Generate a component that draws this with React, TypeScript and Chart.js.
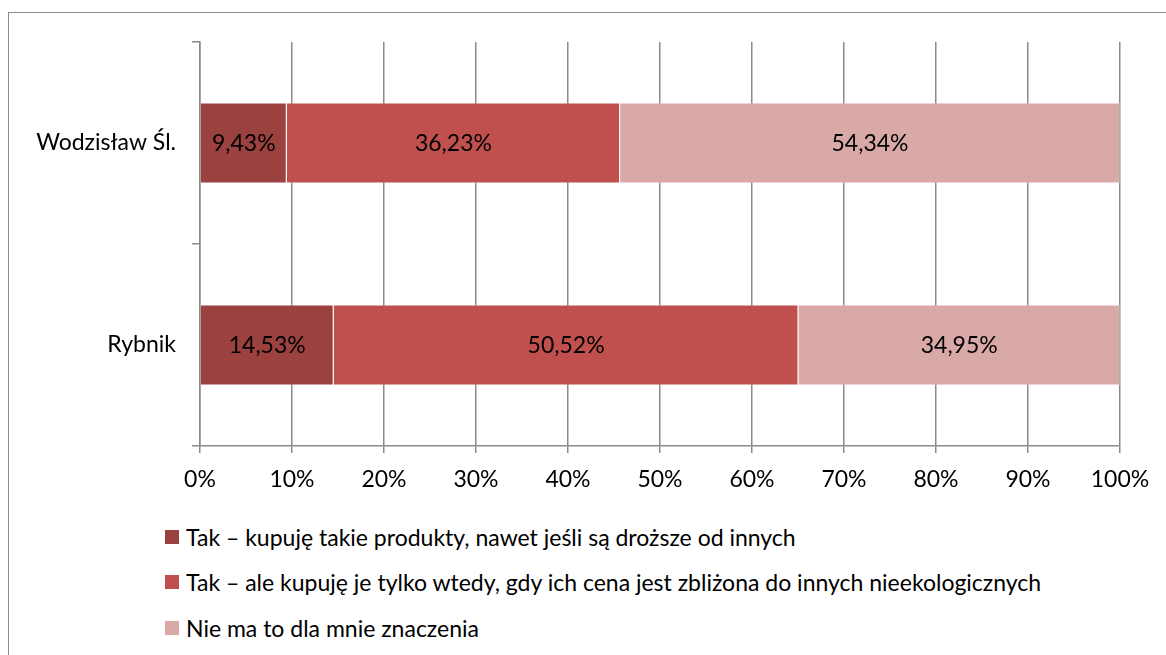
import React, { useEffect, useRef } from "react";
import { Chart, registerables } from "chart.js";

Chart.register(...registerables);

const categories = ["Wodzisław Śl.", "Rybnik"];
const seriesNames = [
  "Tak – kupuję takie produkty, nawet jeśli są droższe od innych",
  "Tak – ale kupuję je tylko wtedy, gdy ich cena jest zbliżona do innych nieekologicznych",
  "Nie ma to dla mnie znaczenia",
];
const seriesA = [9.43, 14.53];
const seriesB = [36.23, 50.52];
const seriesC = [54.34, 34.95];
const colors = ["#9B413F", "#C0504D", "#D9A9A8"];
const xTicks = [0, 10, 20, 30, 40, 50, 60, 70, 80, 90, 100];

const FONT = "Lato, 'Open Sans', sans-serif";
const FS = 23;
const GRID = "#8a8a8a";

const fmt = (v: number) => v.toFixed(2).replace(".", ",") + "%";

const labelPlugin = {
  id: "segLabels",
  afterDatasetsDraw(chart: any) {
    const ctx = chart.ctx;
    ctx.save();
    ctx.font = `${FS}px ${FONT}`;
    ctx.fillStyle = "#000";
    ctx.textAlign = "center";
    ctx.textBaseline = "middle";
    chart.data.datasets.forEach((ds: any, di: number) => {
      const meta = chart.getDatasetMeta(di);
      meta.data.forEach((el: any, i: number) => {
        const cx = (el.x + el.base) / 2;
        ctx.fillText(fmt(ds.data[i]), cx, el.y + 1);
      });
    });
    ctx.restore();
  },
};

export default function App() {
  const ref = useRef<HTMLCanvasElement | null>(null);
  useEffect(() => {
    if (!ref.current) return;
    const data = [seriesA, seriesB, seriesC];
    const chart = new Chart(ref.current, {
      type: "bar",
      data: {
        labels: categories,
        datasets: data.map((d, i) => ({
          label: seriesNames[i],
          data: d,
          backgroundColor: colors[i],
          borderColor: "rgba(255,255,255,0.3)",
          borderWidth: 1,
          barPercentage: 0.4,
          categoryPercentage: 1,
        })),
      },
      options: {
        indexAxis: "y",
        responsive: false,
        animation: false,
        devicePixelRatio: 1,
        layout: { padding: { left: 0, right: 46, top: 42, bottom: 0 } },
        plugins: {
          legend: { display: false },
          tooltip: { enabled: false },
        },
        scales: {
          x: {
            stacked: true,
            min: 0,
            max: 100,
            afterFit: (s: any) => {
              s.height = 54;
            },
            afterBuildTicks: (s: any) => {
              s.ticks = xTicks.map((v) => ({ value: v }));
            },
            ticks: {
              callback: (v: any) => v + "%",
              color: "#000",
              font: { family: FONT, size: FS },
              padding: 13,
              maxRotation: 0,
            },
            grid: { color: GRID, lineWidth: 1.5, tickLength: 7 },
            border: { color: GRID, width: 1.5 },
          },
          y: {
            stacked: true,
            afterFit: (s: any) => {
              s.width = 200;
            },
            ticks: {
              color: "#000",
              font: { family: FONT, size: FS },
              padding: 16,
            },
            grid: {
              drawOnChartArea: false,
              drawTicks: true,
              tickLength: 8,
              color: GRID,
              lineWidth: 1.5,
            },
            border: { color: GRID, width: 1.5 },
          },
        },
      },
      plugins: [labelPlugin],
    });
    return () => chart.destroy();
  }, []);

  const legendTops = [537, 582, 628];
  return (
    <div
      style={{
        position: "fixed",
        left: 0,
        top: 0,
        width: 1166,
        height: 655,
        overflow: "hidden",
        background: "#fff",
      }}
    >
      <div
        style={{
          position: "absolute",
          left: 8,
          top: 12,
          width: 1200,
          height: 700,
          border: "1.5px solid #8c8c8c",
        }}
      />
      <canvas
        ref={ref}
        width={1166}
        height={500}
        style={{ position: "absolute", left: 0, top: 0, width: 1166, height: 500 }}
      />
      {seriesNames.map((n, i) => (
        <div
          key={i}
          style={{
            position: "absolute",
            left: 165,
            top: legendTops[i] - 15,
            height: 30,
            display: "flex",
            alignItems: "center",
            fontFamily: FONT,
            fontSize: FS,
            color: "#000",
            whiteSpace: "nowrap",
          }}
        >
          <span
            style={{
              display: "inline-block",
              width: 14,
              height: 14,
              background: colors[i],
              marginRight: 7,
            }}
          />
          <span>{n}</span>
        </div>
      ))}
    </div>
  );
}
